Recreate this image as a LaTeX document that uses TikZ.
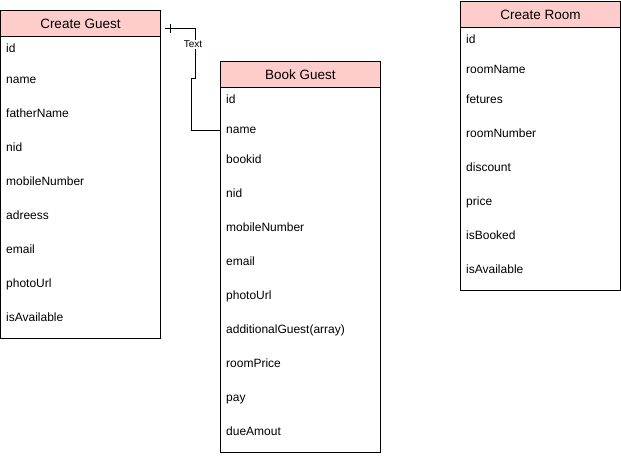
\documentclass[tikz,border=0pt]{standalone}
\usepackage{fontspec}
\setmainfont{Liberation Sans}
\begin{document}
\begin{tikzpicture}[x=1pt,y=-1pt,
  hdr/.style={draw=black,line width=0.8pt,fill=hdrpink,anchor=north west,minimum width=160pt,minimum height=26pt,inner sep=0pt,font=\fontsize{13.5}{15}\selectfont},
  bodybox/.style={draw=black,line width=0.8pt,fill=white,anchor=north west,minimum width=160pt,inner sep=0pt},
  fld/.style={anchor=base west,inner sep=0pt,font=\fontsize{12}{14}\selectfont},
  conn/.style={draw=black,line width=0.8pt},
  lbl/.style={fill=white,inner sep=1pt,font=\fontsize{10}{12}\selectfont}]
\definecolor{hdrpink}{HTML}{FFCCCC}
\useasboundingbox (0,0) rectangle (621,456);
% Create Guest
\node[bodybox,minimum height=302pt] (cgb) at (0,36) {};
\node[hdr] (cgh) at (0,10) {Create Guest};
\node[fld] (cg1) at (6,52.5) {id};
\node[fld] (cg2) at (6,83.5) {name};
\node[fld] (cg3) at (6,117.5) {fatherName};
\node[fld] (cg4) at (6,151.5) {nid};
\node[fld] (cg5) at (6,185.5) {mobileNumber};
\node[fld] (cg6) at (6,219.5) {adreess};
\node[fld] (cg7) at (6,253.5) {email};
\node[fld] (cg8) at (6,287.5) {photoUrl};
\node[fld] (cg9) at (6,321.5) {isAvailable};
% Book Guest
\node[bodybox,minimum height=366pt] (bgb) at (220,86) {};
\node[hdr] (bgh) at (220,61) {Book Guest};
\node[fld] (bg1) at (226,103.5) {id};
\node[fld] (bg2) at (226,133.5) {name};
\node[fld] (bg3) at (226,163.5) {bookid};
\node[fld] (bg4) at (226,197.5) {nid};
\node[fld] (bg5) at (226,231.5) {mobileNumber};
\node[fld] (bg6) at (226,265.5) {email};
\node[fld] (bg7) at (226,299.5) {photoUrl};
\node[fld] (bg8) at (226,333.5) {additionalGuest(array)};
\node[fld] (bg9) at (226,367.5) {roomPrice};
\node[fld] (bg10) at (226,401.5) {pay};
\node[fld] (bg11) at (226,435.5) {dueAmout};
% Create Room
\node[bodybox,minimum height=264pt] (crb) at (460,26) {};
\node[hdr] (crh) at (460,1) {Create Room};
\node[fld] (cr1) at (466,43.5) {id};
\node[fld] (cr2) at (466,73.5) {roomName};
\node[fld] (cr3) at (466,103.5) {fetures};
\node[fld] (cr4) at (466,137.5) {roomNumber};
\node[fld] (cr5) at (466,171.5) {discount};
\node[fld] (cr6) at (466,205.5) {price};
\node[fld] (cr7) at (466,239.5) {isBooked};
\node[fld] (cr8) at (466,273.5) {isAvailable};
% connector
\coordinate (cs) at (165,28);
\coordinate (ce) at (220,130);
\draw[conn] (cs) -- (195,28) -- (195,78) -- (191,78) -- (191,130) -- (ce);
\draw[conn] (170,24) -- (170,33);
\node[lbl] (tl) at (193,44.5) {Text};
\end{tikzpicture}
\end{document}
